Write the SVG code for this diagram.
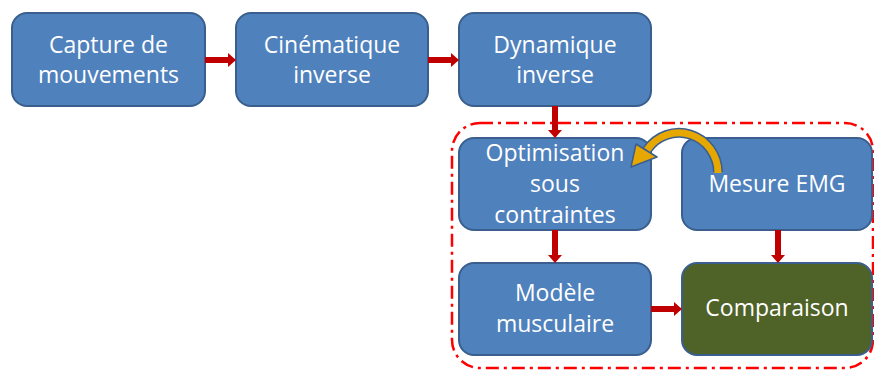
<svg xmlns="http://www.w3.org/2000/svg" width="874" height="370" viewBox="0 0 874 370">
<defs>
<style>
.box{fill:#4F81BD;stroke:#3A5F8E;stroke-width:2}
.green{fill:#4F6228;stroke:#3A5F8E;stroke-width:2}
.t{font-family:"Open Sans","Liberation Sans",sans-serif;font-size:23px;fill:#FFFFFF;text-anchor:middle}
.shaft{stroke:#C00000;stroke-width:6;fill:none}
.head{fill:#C00000}
</style>
</defs>
<rect x="452" y="123" width="421" height="245" rx="28" fill="none" stroke="#FF0000" stroke-width="2.5" stroke-dasharray="13 5 3 5"/>
<g id="capture"><rect class="box" x="12" y="13" width="193" height="93" rx="15"/><text class="t" x="108.5" y="53">Capture de</text><text class="t" x="108.5" y="83">mouvements</text></g>
<g id="cinematique"><rect class="box" x="236" y="13" width="192" height="93" rx="15"/><text class="t" x="332" y="53">Cinématique</text><text class="t" x="332" y="83">inverse</text></g>
<g id="dynamique"><rect class="box" x="459" y="13" width="192" height="93" rx="15"/><text class="t" x="555" y="53">Dynamique</text><text class="t" x="555" y="83">inverse</text></g>
<g id="optimisation"><rect class="box" x="459" y="138" width="192" height="92" rx="15"/><text class="t" x="555" y="161">Optimisation</text><text class="t" x="555" y="192">sous</text><text class="t" x="555" y="223">contraintes</text></g>
<g id="emg"><rect class="box" x="682" y="138" width="190" height="92" rx="15"/><text class="t" x="777" y="192">Mesure EMG</text></g>
<g id="modele"><rect class="box" x="459" y="263" width="192" height="92" rx="15"/><text class="t" x="555" y="301">Modèle</text><text class="t" x="555" y="332">musculaire</text></g>
<g id="comparaison"><rect class="green" x="682" y="263" width="190" height="92" rx="15"/><text class="t" x="777" y="316">Comparaison</text></g>
<g id="connectors">
<line class="shaft" x1="205" y1="60" x2="229" y2="60"/><polygon class="head" points="228,53 236,60 228,67"/>
<line class="shaft" x1="428" y1="60" x2="452" y2="60"/><polygon class="head" points="451,53 459,60 451,67"/>
<line class="shaft" x1="555" y1="106" x2="555" y2="131"/><polygon class="head" points="548,130 555,138 562,130"/>
<line class="shaft" x1="555" y1="230" x2="555" y2="256"/><polygon class="head" points="548,255 555,263 562,255"/>
<line class="shaft" x1="778" y1="230" x2="778" y2="256"/><polygon class="head" points="771,255 778,263 785,255"/>
<line class="shaft" x1="651" y1="309" x2="675" y2="309"/><polygon class="head" points="674,302 682,309 674,316"/>
<path d="M 718 172 A 39 40 0 0 0 647 150" fill="none" stroke="#3A5F8E" stroke-width="10"/>
<path d="M 718 173 A 39 40 0 0 0 647 150" fill="none" stroke="#E6A800" stroke-width="7"/>
<polygon points="631,167 636,144 657,157" fill="#E6A800" stroke="#3A5F8E" stroke-width="1.5" stroke-linejoin="round"/>
</g>
</svg>
